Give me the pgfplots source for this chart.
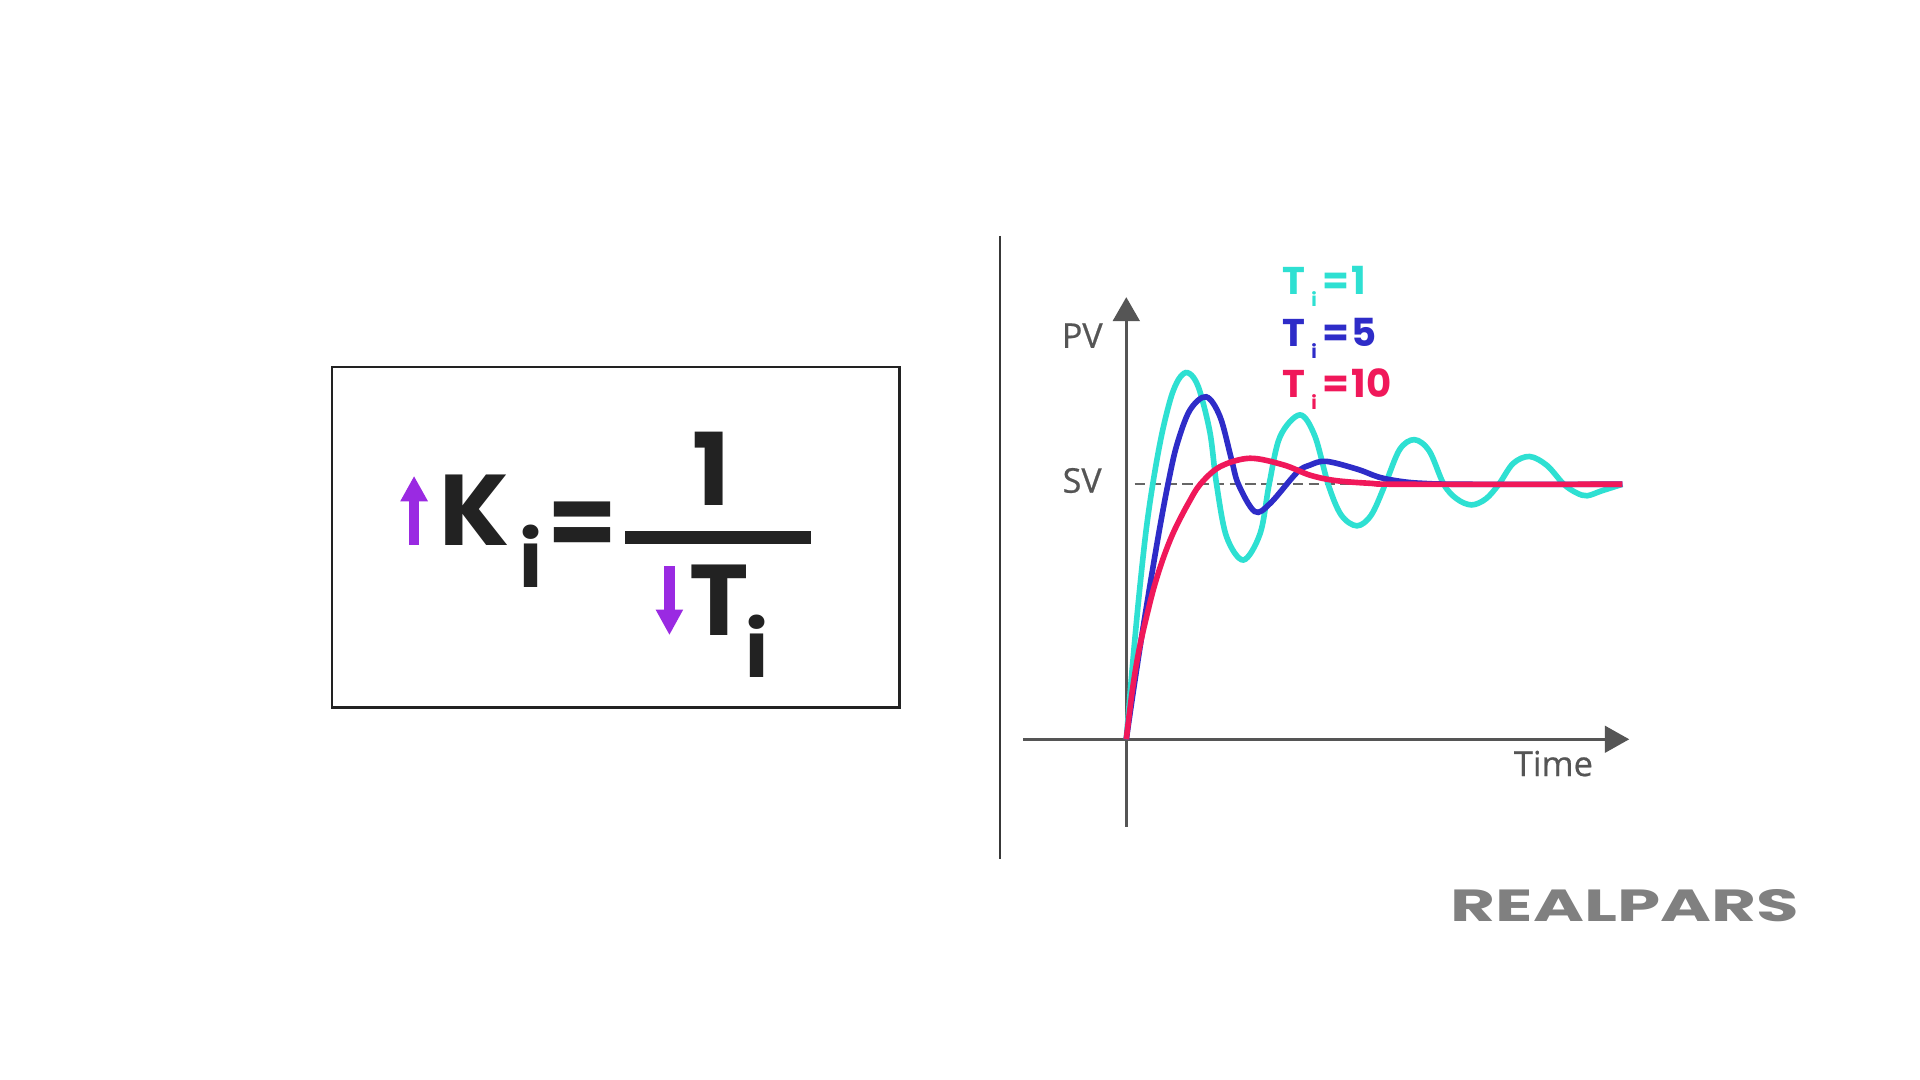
\documentclass[border=0pt]{standalone}
\usepackage{pgfplots}
\pgfplotsset{compat=1.18}
\usepackage{fontspec}
\usetikzlibrary{arrows.meta}
\newfontfamily\pop{Poppins}
\newfontfamily\opens{Open Sans}[FakeBold=0.6]
\definecolor{cyanc}{HTML}{2EE0D2}
\definecolor{bluec}{HTML}{2E2CC8}
\definecolor{redc}{HTML}{F0185A}
\definecolor{purp}{HTML}{9A2AE2}
\definecolor{axg}{HTML}{555555}
\definecolor{ink}{HTML}{222222}
\definecolor{logog}{HTML}{808080}
\newcommand{\lgd}[1]{\pop\bfseries\fontsize{11}{12}\selectfont T\kern1.6pt\raisebox{-3.4pt}{\fontsize{5.3}{6}\selectfont i}\kern1.6pt=\kern0.6pt#1}
\begin{document}
\begin{tikzpicture}
\fill[white] (0,0) rectangle (19.2cm,10.8cm);
\begin{axis}[at={(10.231cm,2.53cm)}, anchor=south west, scale only axis,
  width=6.141cm, height=5.3395cm, xmin=-2.08, xmax=10.3, ymin=-0.344, ymax=1.75,
  hide axis, clip=false]
\draw[axg, line width=1pt, -{Triangle[width=0.265cm,length=0.24cm]}] (axis cs:0,-0.344) -- (axis cs:0,1.734);
\draw[axg, line width=1pt, -{Triangle[width=0.265cm,length=0.245cm]}] (axis cs:-2.08,0) -- (axis cs:10.14,0);
\draw[axg!90, line width=0.45pt, dash pattern=on 3pt off 1.5pt] (axis cs:0.17,1) -- (axis cs:10,1);
\addplot[cyanc, line width=1.6pt, smooth, tension=0.55] coordinates {
(0,0) (0.13,0.3) (0.26,0.57) (0.4,0.82) (0.55,1.02) (0.72,1.2) (0.9,1.34) (1.05,1.41) (1.2,1.438) (1.35,1.42) (1.49,1.36) (1.69,1.2) (1.82,1.0) (2.02,0.795) (2.36,0.703) (2.70,0.808) (2.88,1.0) (3.10,1.187) (3.5,1.272) (3.8,1.19) (4.07,1.0) (4.33,0.88) (4.65,0.837) (4.94,0.88) (5.22,1.0) (5.51,1.136) (5.81,1.175) (6.11,1.13) (6.40,1.0) (6.66,0.943) (6.96,0.919) (7.25,0.943) (7.51,1.0) (7.80,1.082) (8.13,1.109) (8.48,1.074) (8.82,1.0) (9.08,0.966) (9.29,0.955) (9.58,0.974) (10,1.0)
};
\addplot[bluec, line width=1.6pt, smooth, tension=0.55] coordinates {
(0,0) (0.12,0.16) (0.3,0.39) (0.5,0.63) (0.68,0.835) (0.85,1.01) (1.02,1.155) (1.28,1.29) (1.61,1.343) (1.89,1.265) (2.12,1.098) (2.26,1.0) (2.59,0.893) (2.90,0.925) (3.44,1.046) (3.70,1.075) (4.03,1.09) (4.66,1.059) (5.09,1.028) (5.51,1.012) (5.94,1.004) (6.79,1.0) (10,1.0)
};
\addplot[redc, line width=1.6pt, smooth, tension=0.55] coordinates {
(0,0) (0.1,0.16) (0.2,0.29) (0.3,0.39) (0.42,0.49) (0.55,0.59) (0.7,0.685) (0.86,0.77) (1.02,0.84) (1.25,0.925) (1.49,1.0) (1.89,1.069) (2.49,1.102) (3.17,1.076) (3.70,1.036) (4.2,1.015) (4.9,1.004) (5.6,1.0) (10,1.0)
};
\end{axis}
\begin{scope}[x=0.01cm, y=-0.01cm, yshift=10.8cm]
% separator
\draw[ink!90, line width=0.57pt] (1000.5,236) -- (1000.5,860);
% formula box
\draw[ink, line width=0.7pt] (332,367) rectangle (900,708);
\fill[purp] (408.8,545.7) rectangle (419.5,501);
\fill[purp] (400.4,501.7) -- (428.3,501.7) -- (414.3,476.7) -- cycle;
\fill[purp] (664.4,566) rectangle (675.1,611);
\fill[purp] (656,610) -- (683.6,610) -- (669.8,635) -- cycle;
\fill[ink] (625,531.7) rectangle (811,544.3);
\node[anchor=base, inner sep=0, text=ink] at (475,546) {\pop\bfseries\fontsize{28.6}{30}\selectfont K};
\node[anchor=base, inner sep=0, text=ink] at (531,588) {\pop\bfseries\fontsize{22.2}{24}\selectfont i};
\node[anchor=center, inner sep=0, text=ink] at (583,530.5) {\pop\bfseries\fontsize{28.6}{30}\selectfont =};
\node[anchor=base, inner sep=0, text=ink] at (712,506) {\pop\bfseries\fontsize{28.6}{30}\selectfont 1};
\node[anchor=base, inner sep=0, text=ink] at (720,636) {\pop\bfseries\fontsize{28.6}{30}\selectfont T};
\node[anchor=base, inner sep=0, text=ink] at (757,677.7) {\pop\bfseries\fontsize{22.2}{24}\selectfont i};
% axis labels
\node[anchor=base east, inner sep=0, text=axg] at (1104,348) {\opens\fontsize{9.7}{11}\selectfont PV};
\node[anchor=base east, inner sep=0, text=axg] at (1103,493) {\opens\fontsize{9.7}{11}\selectfont SV};
\node[anchor=base west, inner sep=0, text=axg] at (1514,776.5) {\opens\fontsize{9.8}{11}\selectfont Time};
% legend
\node[anchor=base west, inner sep=0, text=cyanc] at (1283,295) {\lgd{1}};
\node[anchor=base west, inner sep=0, text=bluec] at (1283,347) {\lgd{5}};
\node[anchor=base west, inner sep=0, text=redc] at (1283,398) {\lgd{10}};
% logo
\node[anchor=base west, inner sep=0, text=logog] at (1451,922) {\resizebox{3.48cm}{0.32cm}{\pop\bfseries REALPARS}};
\end{scope}
\end{tikzpicture}
\end{document}
